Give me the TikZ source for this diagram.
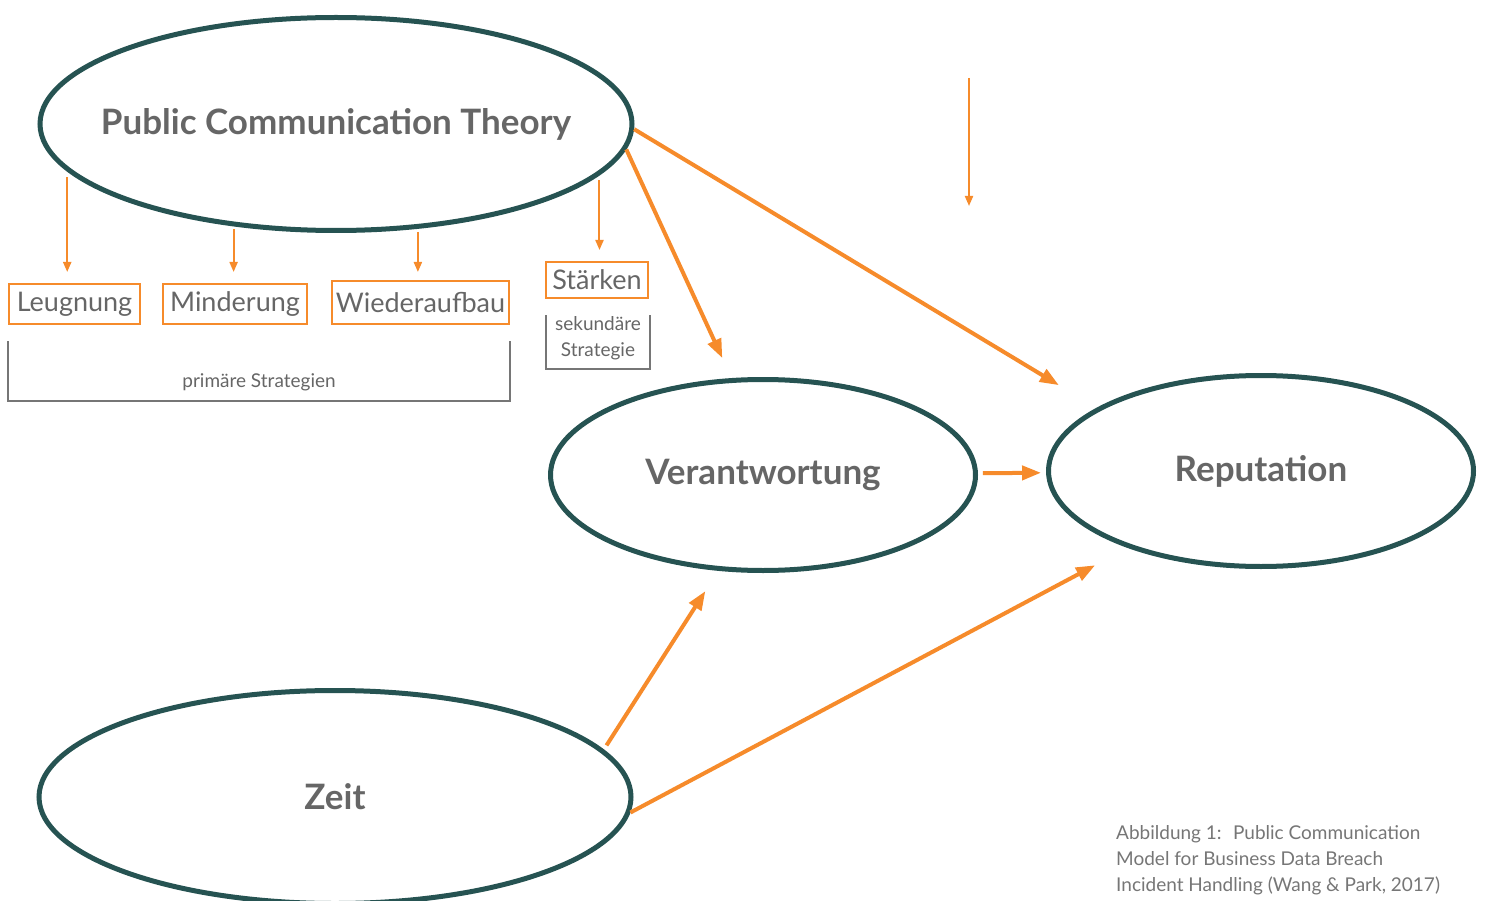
\documentclass[tikz,border=0pt]{standalone}
\usepackage{fontspec}
\setmainfont{Lato}
\usetikzlibrary{arrows.meta,shapes.geometric}

\definecolor{modelteal}{RGB}{38,83,82}
\definecolor{modelorange}{RGB}{246,139,43}
\definecolor{modelgray}{RGB}{102,102,102}
\definecolor{notegray}{RGB}{118,118,118}

\begin{document}
\begin{tikzpicture}[x=1pt, y=-1pt,
	concept/.style={draw=modelteal, line width=5pt, ellipse, inner sep=0pt,
		text=modelgray, font=\fontsize{35}{42}\selectfont\bfseries},
	strategy/.style={draw=modelorange, line width=2pt, inner sep=0pt,
		text=modelgray, font=\fontsize{27}{31}\selectfont},
	bracketbox/.style={inner sep=0pt, outer sep=0pt},
	bracket/.style={draw=notegray, line width=1.8pt},
	note/.style={text=modelgray, font=\fontsize{19}{26}\selectfont, inner sep=0pt},
	effect/.style={-{Triangle[length=19pt,width=14pt]}, draw=modelorange, line width=4pt},
	hint/.style={-{Triangle[length=10pt,width=8pt]}, draw=modelorange, line width=2pt}]

	\useasboundingbox (0,0) rectangle (1485,901);

	% ============ CONCEPTS ============

	\node[concept, minimum width=592, minimum height=213] (pct) at (336,124) {\makebox[0pt]{Public Communication Theory}};
	\node[concept, minimum width=425, minimum height=191] (ver) at (763,475) {\makebox[0pt]{Verantwortung}};
	\node[concept, minimum width=425, minimum height=191] (rep) at (1261,471) {\makebox[0pt]{Reputation}};
	\node[concept, minimum width=592, minimum height=213] (zeit) at (335,797) {\makebox[0pt]{Zeit}};

	% ============ STRATEGIES ============

	\node[strategy, minimum width=131, minimum height=40] (leug) at (74.5,304) {Leugnung};
	\node[strategy, minimum width=144, minimum height=40] (mind) at (235,304) {Minderung};
	\node[strategy, minimum width=177, minimum height=43] (wied) at (420.5,302.5) {Wiederaufbau};
	\node[strategy, minimum width=102, minimum height=36] (staerk) at (597,280) {Stärken};

	% Brackets
	\node[bracketbox, minimum width=502, minimum height=60] (primbox) at (259,371) {};
	\node[note] (prim) at ([yshift=-11pt]primbox.center) {primäre Strategien};
	\draw[bracket] (primbox.north west) |- (primbox.south east) -- (primbox.north east);

	\node[bracketbox, minimum width=104, minimum height=54] (sekbox) at (598,342) {};
	\node[note, align=center] (sek) at ([yshift=4pt]sekbox.center) {sekundäre\\Strategie};
	\draw[bracket] (sekbox.north west) |- (sekbox.south east) -- (sekbox.north east);

	% Arrows to the strategies (thin)
	\draw[hint, shorten <=6pt, shorten >=11pt] (pct.190.4) -- (pct.190.4 |- leug.north);
	\draw[hint, shorten <=3pt, shorten >=11pt] (pct.225.8) -- (pct.225.8 |- mind.north);
	\draw[hint, shorten <=3pt, shorten >=8pt] (pct.308.8) -- (pct.308.8 |- wied.north);
	\draw[hint, shorten <=5pt, shorten >=11pt] (pct.349.2) -- (pct.349.2 |- staerk.north);

	% Lone arrow
	\coordinate (lonetop) at (969,78);
	\coordinate (lonebot) at (969,206);
	\draw[hint] (lonetop) -- (lonebot);

	% ============ EFFECTS ============

	\draw[effect, shorten >=22pt] (pct.-5.4) -- (ver.108.3);
	\draw[effect, shorten >=44pt] (pct.-1.3) -- (rep.159.3);
	\draw[effect, shorten <=5pt, shorten >=5pt] (ver) -- (rep);
	\draw[effect, shorten <=5pt, shorten >=24pt] (zeit.10.1) -- (ver.245.8);
	\draw[effect, shorten >=37pt] (zeit.-3.4) -- (rep.210.9);

	% Caption
	\node[note, text=notegray, align=left, anchor=north west] (caption) at (1116,825)
		{Abbildung 1:~ Public Communication\\Model for Business Data Breach\\Incident Handling (Wang \& Park, 2017)};

\end{tikzpicture}
\end{document}
